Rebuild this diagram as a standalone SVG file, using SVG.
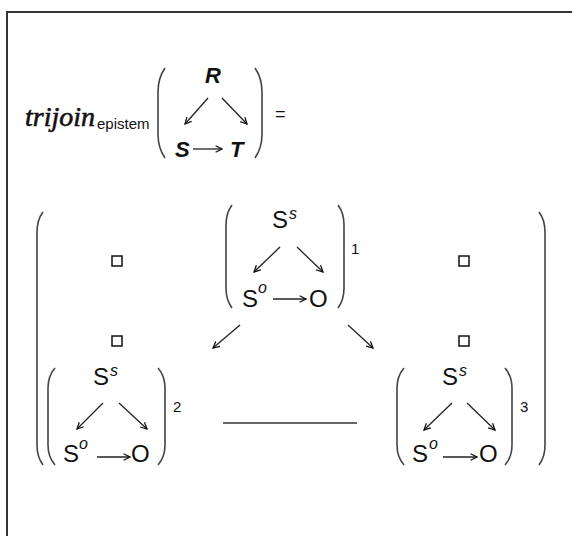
<svg xmlns="http://www.w3.org/2000/svg" width="572" height="536" viewBox="0 0 572 536">
<defs>
<marker id="ah" viewBox="0 0 10 10" refX="9" refY="5" markerWidth="8" markerHeight="8" markerUnits="userSpaceOnUse" orient="auto">
<path d="M1,1 L9,5 L1,9" fill="none" stroke="#111" stroke-width="1.6"/>
</marker>
</defs>
<style>
.t{font-family:"Liberation Sans",Arial,sans-serif;fill:#111}
.m{font-size:24px}
.sup{font-size:16px;font-style:italic}
.num{font-size:15px}
.bi{font-size:22px;font-weight:bold;font-style:italic}
.ar{stroke:#222;stroke-width:1.3;fill:none;marker-end:url(#ah)}
.pr{stroke:#444;stroke-width:1.6;fill:none}
.sq{fill:#fff;stroke:#111;stroke-width:1.5}
</style>
<rect width="572" height="536" fill="#fff"/>
<g id="frame">
<path d="M7,536 L7,12 L572,12" fill="none" stroke="#333" stroke-width="2"/>
</g>
<g id="formula">
<text x="25" y="126" font-family="Liberation Serif,serif" font-style="italic" font-size="28" fill="#111" stroke="#111" stroke-width="0.6" textLength="70">trijoin</text>
<text x="97" y="129" class="t" font-size="15">epistem</text>
<path class="pr" d="M165,68 Q158,78 158,92 L158,134 Q158,148 165,158"/>
<path class="pr" d="M255,68 Q262,78 262,92 L262,134 Q262,148 255,158"/>
<text x="205" y="83" class="t bi">R</text>
<text x="175" y="157" class="t bi">S</text>
<text x="230" y="157" class="t bi">T</text>
<text x="275" y="120" class="t" font-size="18">=</text>
</g>
<g id="outer">
<path class="pr" d="M43,212 Q37,220 37,232 L37,445 Q37,457 43,465"/>
<path class="pr" d="M539,212 Q545,220 545,232 L545,445 Q545,457 539,465"/>
</g>
<g id="squares">
<rect class="sq" x="112" y="256" width="10" height="10"/>
<rect class="sq" x="112" y="336" width="10" height="10"/>
<rect class="sq" x="459" y="256" width="10" height="10"/>
<rect class="sq" x="459" y="336" width="10" height="10"/>
</g>
<g id="node1">
<path class="pr" d="M232,205 Q226,213 226,225 L226,288 Q226,300 232,308"/>
<path class="pr" d="M338,205 Q344,213 344,225 L344,288 Q344,300 338,308"/>
<text x="272" y="228" class="t m">S</text>
<text x="289" y="219" class="t sup">s</text>
<text x="242" y="307" class="t m">S</text>
<text x="258" y="293" class="t sup">o</text>
<text x="309" y="307" class="t m">O</text>
<text x="351" y="254" class="t num">1</text>
</g>
<g id="node2">
<path class="pr" d="M55,368 Q48,376 48,388 L48,445 Q48,457 55,465"/>
<path class="pr" d="M158,368 Q165,376 165,388 L165,445 Q165,457 158,465"/>
<text x="93" y="385" class="t m">S</text>
<text x="110" y="376" class="t sup">s</text>
<text x="63" y="462" class="t m">S</text>
<text x="79" y="449" class="t sup">o</text>
<text x="131" y="462" class="t m">O</text>
<text x="173" y="412" class="t num">2</text>
</g>
<g id="node3">
<path class="pr" d="M404,368 Q397,376 397,388 L397,445 Q397,457 404,465"/>
<path class="pr" d="M505,368 Q512,376 512,388 L512,445 Q512,457 505,465"/>
<text x="442" y="385" class="t m">S</text>
<text x="459" y="376" class="t sup">s</text>
<text x="412" y="462" class="t m">S</text>
<text x="429" y="449" class="t sup">o</text>
<text x="479" y="462" class="t m">O</text>
<text x="520" y="412" class="t num">3</text>
</g>
<g id="connectors">
<line class="ar" x1="208" y1="98" x2="185" y2="124"/>
<line class="ar" x1="222" y1="98" x2="247" y2="124"/>
<line class="ar" x1="193" y1="149" x2="222" y2="149"/>
<line class="ar" x1="280" y1="247" x2="254" y2="272"/>
<line class="ar" x1="297" y1="247" x2="323" y2="272"/>
<line class="ar" x1="273" y1="299" x2="306" y2="299"/>
<line class="ar" x1="240" y1="325" x2="213" y2="348"/>
<line class="ar" x1="348" y1="325" x2="373" y2="348"/>
<line x1="223" y1="423" x2="357" y2="423" stroke="#333" stroke-width="1.6"/>
<line class="ar" x1="103" y1="403" x2="77" y2="429"/>
<line class="ar" x1="119" y1="403" x2="147" y2="429"/>
<line class="ar" x1="97" y1="457" x2="130" y2="457"/>
<line class="ar" x1="452" y1="403" x2="424" y2="430"/>
<line class="ar" x1="467" y1="403" x2="495" y2="430"/>
<line class="ar" x1="443" y1="457" x2="477" y2="457"/>
</g>
</svg>
